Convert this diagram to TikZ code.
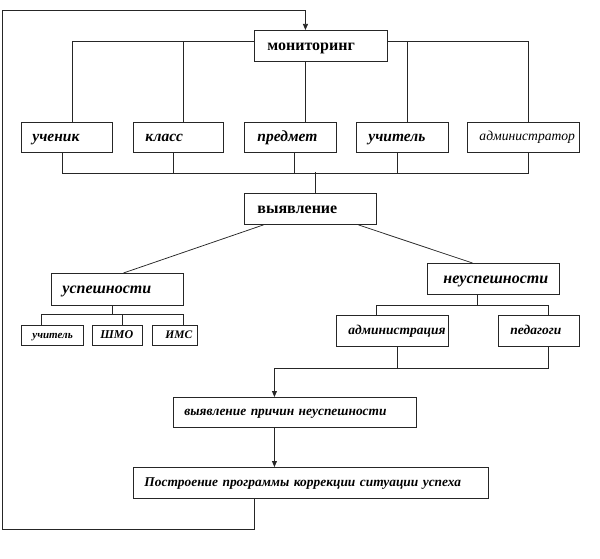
\documentclass[tikz,border=0pt]{standalone}
\usepackage{fontspec}
\setmainfont{Liberation Serif}
\usetikzlibrary{arrows.meta}
\newcommand\bxt[2]{\hspace*{#1}\raisebox{-0.26em}[0pt][0pt]{#2}}
\tikzset{
  box/.style={draw=black!85, fill=white, line width=0.9pt, anchor=north west,
    inner xsep=0pt, inner ysep=0pt, align=left},
  bx/.style 2 args={box, text width=#1, minimum height=#2},
  ln/.style={draw=black!85, line width=0.75pt},
  arr/.style={ln, -{Triangle[length=6pt,width=5pt]}},
  bi/.style={font=\fontsize{#1}{#1}\selectfont\bfseries\itshape},
  bu/.style={font=\fontsize{#1}{#1}\selectfont\bfseries},
  it/.style={font=\fontsize{#1}{#1}\selectfont\itshape},
}
\begin{document}
\begin{tikzpicture}[x=1pt,y=-1pt]
\useasboundingbox (0,0) rectangle (600,559);
% boxes
\node[bx={133pt}{31pt}, bu=16] (mon) at (254,30) {\bxt{13pt}{мониторинг}};
\node[bx={91pt}{30pt}, bi=15.5] (uch) at (21,122) {\bxt{11pt}{ученик}};
\node[bx={90pt}{30pt}, bi=15.5] (kl) at (133,122) {\bxt{12pt}{класс}};
\node[bx={92pt}{30pt}, bi=15.5] (pr) at (244,122) {\bxt{13pt}{предмет}};
\node[bx={92pt}{30pt}, bi=15.5] (ut) at (356,122) {\bxt{12pt}{учитель}};
\node[bx={112pt}{30pt}, it=13.6] (ad) at (467,122) {\bxt{12pt}{администратор}};
\node[bx={132pt}{31pt}, bu=16] (vyy) at (244,193) {\bxt{13pt}{выявление}};
\node[bx={132pt}{32pt}, bi=16] (usp) at (51,273) {\bxt{11pt}{успешности}};
\node[bx={132pt}{31pt}, bi=16] (neusp) at (427,263) {\bxt{16pt}{неуспешности}};
\node[bx={62pt}{20pt}, bi=11] (u2) at (21,325) {\bxt{11pt}{учитель}};
\node[bx={50pt}{20pt}, bi=12] (shmo) at (92,325) {\bxt{8pt}{ШМО}};
\node[bx={45pt}{20pt}, bi=11.5] (ims) at (152,325) {\bxt{13pt}{ИМС}};
\node[bx={112pt}{31pt}, bi=13.5] (adm) at (336,315) {\bxt{12pt}{администрация}};
\node[bx={81pt}{31pt}, bi=13.5] (ped) at (498,315) {\bxt{12pt}{педагоги}};
\node[bx={243pt}{30pt}, bi=13.4] (vpn) at (173,397) {\bxt{11pt}{выявление причин неуспешности}};
\node[bx={355pt}{31pt}, bi=13.4] (post) at (133,467) {\bxt{11pt}{Построение программы коррекции ситуации успеха}};
% loop
\coordinate (lb) at (2,529);
\coordinate (lt) at (2,10);
\draw[arr] ([xshift=-56.5pt]post.south) |- (lb) -- (lt) -| ([xshift=-15.5pt]mon.north);
% monitoring to row
\draw[ln] ([yshift=4.5pt]mon.west) -| ([xshift=5.5pt]uch.north);
\draw[ln] ([xshift=5pt]kl.north) |- ([yshift=4.5pt]mon.west);
\draw[ln] ([xshift=-15.5pt]mon.south) -- ([xshift=15pt]pr.north);
\draw[ln] ([yshift=4.5pt]mon.east) -| ([xshift=5pt]ad.north);
\draw[ln] ([xshift=5pt]ut.north) |- ([yshift=4.5pt]mon.east);
% row to bus
\draw[ln] ([xshift=-4.5pt]uch.south) -- ++(0,20) -| ([xshift=5pt]ad.south);
\draw[ln] ([xshift=-5pt]kl.south) -- ++(0,20);
\draw[ln] ([xshift=4pt]pr.south) -- ++(0,20);
\draw[ln] ([xshift=-5pt]ut.south) -- ++(0,20);
\draw[ln] ([xshift=5pt]vyy.north) -- ++(0,-21);
% vyyavlenie branches
\draw[ln] ([xshift=-47pt]vyy.south) -- ([xshift=6pt]usp.north);
\draw[ln] ([xshift=48pt]vyy.south) -- ([xshift=-21pt]neusp.north);
% uspeshnosti
\draw[ln] ([xshift=-5pt]usp.south) -- ++(0,9);
\draw[ln] ([xshift=-11pt]u2.north) -- ++(0,-11) -| ([xshift=8.5pt]ims.north);
\draw[ln] ([xshift=5pt]shmo.north) -- ++(0,-11);
% neuspeshnosti
\draw[ln] ([xshift=-16pt]neusp.south) -- ++(0,11);
\draw[ln] ([xshift=-16pt]adm.north) -- ++(0,-10) -| ([xshift=9.5pt]ped.north);
% to causes
\draw[arr] ([xshift=9.5pt]ped.south) -- ++(0,21) -| ([xshift=-20.5pt]vpn.north);
\draw[ln] ([xshift=5pt]adm.south) -- ++(0,21);
\draw[arr] ([xshift=-20.5pt]vpn.south) -- ([xshift=-36.5pt]post.north);
\end{tikzpicture}
\end{document}
